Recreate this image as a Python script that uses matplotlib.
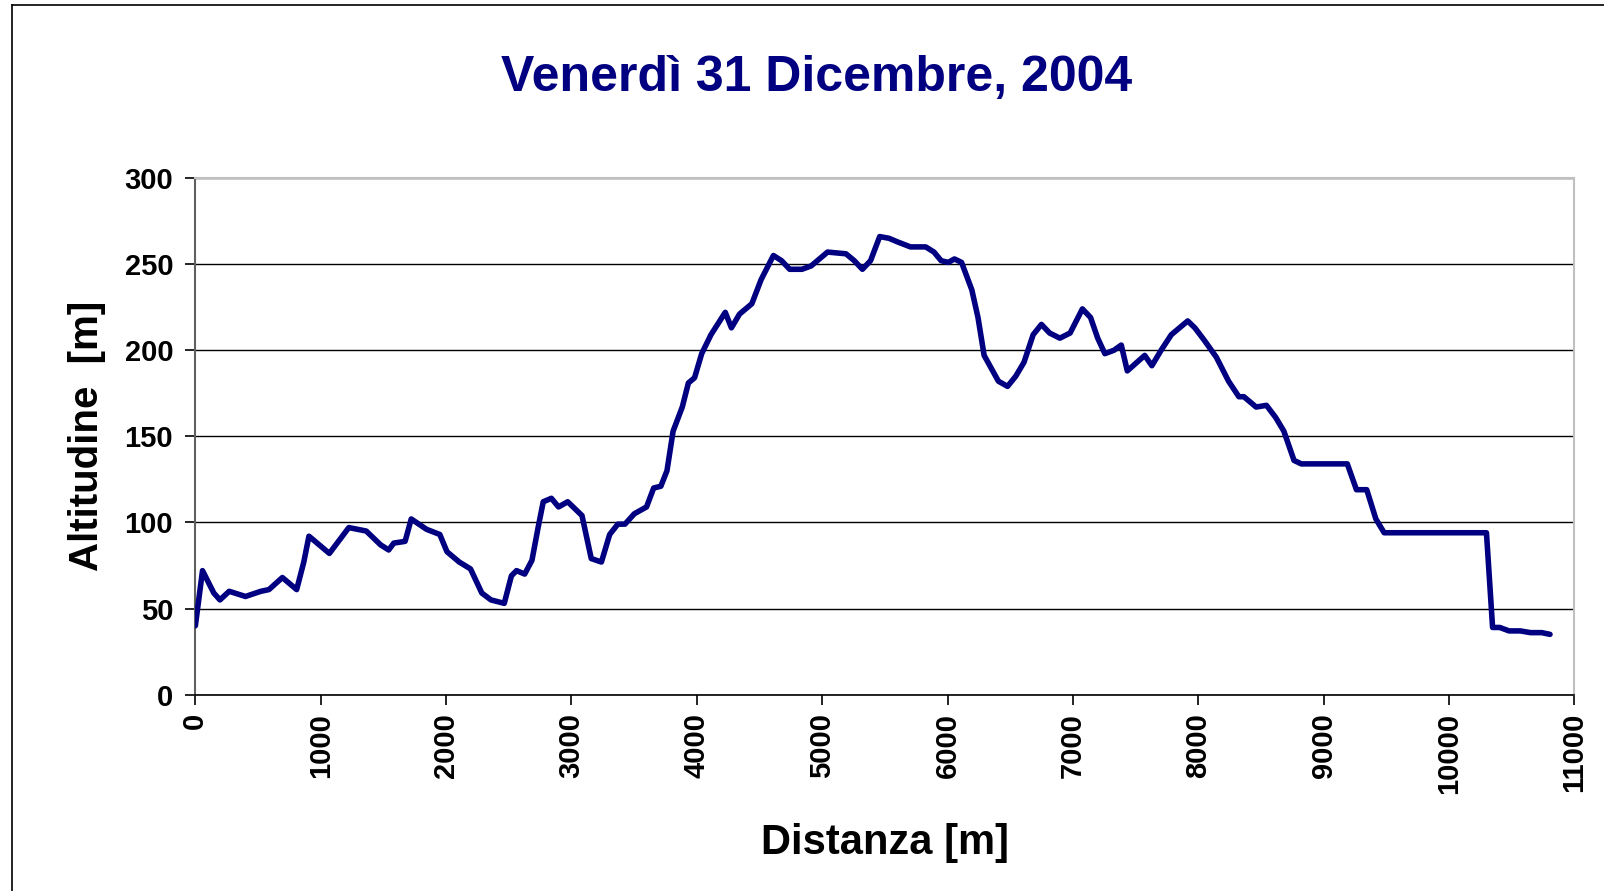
import matplotlib
matplotlib.use("Agg")
import matplotlib.pyplot as plt
from matplotlib.lines import Line2D

plt.rcParams['font.family'] = ['Liberation Sans', 'DejaVu Sans']

title = "Venerdì 31 Dicembre, 2004"
xlabel = "Distanza [m]"
ylabel = "Altitudine  [m]"

distance = [0, 57, 147, 196, 270, 400, 522, 587, 694, 808, 865, 906, 1069, 1224, 1363,
            1477, 1542, 1583, 1673, 1722, 1844, 1950, 2007, 2105, 2195, 2285, 2358, 2464,
            2521, 2562, 2627, 2685, 2734, 2775, 2840, 2897, 2970, 3084, 3158, 3239, 3305,
            3370, 3427, 3501, 3599, 3656, 3713, 3762, 3811, 3884, 3933, 3982, 4039, 4113,
            4227, 4276, 4341, 4439, 4513, 4611, 4676, 4741, 4839, 4913, 5043, 5190, 5256,
            5321, 5386, 5459, 5533, 5598, 5704, 5826, 5892, 5949, 6006, 6055, 6112, 6194,
            6243, 6292, 6406, 6479, 6545, 6610, 6683, 6749, 6814, 6896, 6978, 7076, 7141,
            7198, 7255, 7328, 7386, 7434, 7573, 7630, 7704, 7785, 7851, 7916, 7973, 8046,
            8144, 8242, 8324, 8364, 8462, 8544, 8617, 8683, 8764, 8822, 9189, 9262, 9344,
            9417, 9483, 10299, 10348, 10405, 10479, 10569, 10650, 10740, 10806]
altitude = [40, 72, 59, 55, 60, 57, 60, 61, 68, 61, 77, 92, 82, 97, 95,
            87, 84, 88, 89, 102, 96, 93, 83, 77, 73, 59, 55, 53,
            69, 72, 70, 78, 97, 112, 114, 109, 112, 104, 79, 77, 93,
            99, 99, 105, 109, 120, 121, 130, 153, 167, 181, 184, 198, 209,
            222, 213, 221, 227, 241, 255, 252, 247, 247, 249, 257, 256, 252,
            247, 252, 266, 265, 263, 260, 260, 257, 252, 251, 253, 251, 235,
            219, 197, 182, 179, 185, 193, 209, 215, 210, 207, 210, 224, 219,
            207, 198, 200, 203, 188, 197, 191, 200, 209, 213, 217, 213, 206,
            196, 182, 173, 173, 167, 168, 161, 153, 136, 134, 134, 119, 119,
            102, 94, 94, 39, 39, 37, 37, 36, 36, 35]

x_ticks = list(range(0, 11001, 1000))
y_ticks = list(range(0, 301, 50))

navy = "#000080"

fig = plt.figure(figsize=(16.04, 8.91), dpi=100)
ax = fig.add_axes([0.1218, 0.2204, 0.8597, 0.5798])

ax.plot(distance, altitude, color=navy, lw=4.0, solid_joinstyle='round', solid_capstyle='round', zorder=3)

ax.set_xlim(0, 11000)
ax.set_ylim(0, 300)
ax.set_xticks(x_ticks)
ax.set_yticks(y_ticks)
ax.set_xticklabels([str(t) for t in x_ticks], rotation=90, fontsize=21, fontweight='bold')
ax.set_yticklabels([str(t) for t in y_ticks], fontsize=21, fontweight='bold')
ax.tick_params(axis='both', direction='out', length=7, width=1.2, color='black')
ax.tick_params(axis='y', pad=9)
ax.tick_params(axis='x', pad=6)
ax.yaxis.grid(True, color='black', lw=1.0)
ax.set_axisbelow(True)

for s in ['top', 'right']:
    ax.spines[s].set_color('#c0c0c0')
    ax.spines[s].set_linewidth(1.5)
ax.spines['left'].set_color('#606060')
ax.spines['left'].set_linewidth(1.5)
ax.spines['bottom'].set_color('black')
ax.spines['bottom'].set_linewidth(1.2)

ax.set_xlabel(xlabel, fontsize=30, fontweight='bold', labelpad=21)
ax.set_ylabel(ylabel, fontsize=29, fontweight='bold', labelpad=13)

fig.text(0.509, 0.913, title, ha='center', va='center', fontsize=36,
         fontweight='bold', color=navy)

# outer chart border
fig.add_artist(Line2D([11.5 / 1604, 11.5 / 1604], [0, 1 - 4.5 / 891], transform=fig.transFigure, color='black', lw=1.2))
fig.add_artist(Line2D([11.5 / 1604, 1], [1 - 4.5 / 891, 1 - 4.5 / 891], transform=fig.transFigure, color='black', lw=1.2))

fig.savefig("out.png", dpi=100)
